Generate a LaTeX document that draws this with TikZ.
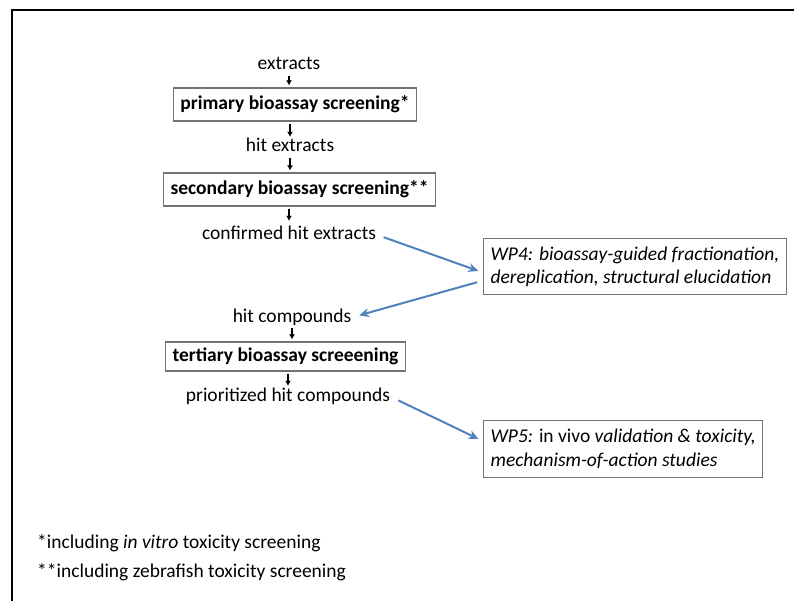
\documentclass[tikz,border=0pt]{standalone}
\usepackage{fontspec}
\setmainfont{Carlito}
\usetikzlibrary{arrows.meta}

\definecolor{wpblue}{RGB}{79,129,189}
\newcommand{\fsz}{\fontsize{19.5bp}{23.5bp}\selectfont}

\begin{document}
\begin{tikzpicture}[x=1bp,y=-1bp,every node/.style={font=\fsz},
    lbl/.style={inner sep=0pt,text height=13bp,text depth=4bp},
    stage/.style={draw=black!55,line width=1.2bp,font=\fsz\bfseries,minimum height=33bp,inner xsep=7bp,inner ysep=0pt},
    wp/.style={draw=black!55,line width=1.2bp,align=left,anchor=north west,inner xsep=7bp,font=\fsz\itshape},
    dn/.style={-{Latex[length=5bp,width=6bp]},line width=1.2bp,shorten <=2bp,shorten >=2bp},
    blu/.style={-{Stealth[length=10bp,width=9bp]},draw=wpblue,line width=2bp}]
    \useasboundingbox (0,0) rectangle (794,601);
    \draw[line width=2bp] (12,601) |- (794,10);
    \node[lbl,anchor=base] (ext) at (289,70) {extracts};
    \node[stage] (prim) at (295,104.5) {primary bioassay screening*};
    \node[lbl,anchor=base] (hitx) at (290,152) {hit extracts};
    \node[stage] (sec) at (299.5,189.5) {secondary bioassay screening**};
    \node[lbl,anchor=base] (conf) at (289,239) {confirmed hit extracts};
    \node[wp,minimum height=56bp] (wp4) at (483,238) {WP4: bioassay-guided fractionation,\\dereplication, structural elucidation};
    \node[lbl,anchor=base] (hitc) at (292,322) {hit compounds};
    \node[stage,minimum height=29bp] (ter) at (285.5,356.5) {tertiary bioassay screeening};
    \node[lbl,anchor=base] (prio) at (288,401) {prioritized hit compounds};
    \node[wp,minimum height=57bp] (wp5) at (483,420) {WP5: {\upshape in vivo} validation \& toxicity,\\mechanism-of-action studies};
    \node[lbl,anchor=base west] (fn1) at (37,548) {*including \textit{in vitro} toxicity screening};
    \node[lbl,anchor=base west] (fn2) at (37,577) {**including zebrafish toxicity screening};
    \draw (ext) edge[dn] (ext |- prim.north);
    \draw (prim.south -| hitx) edge[dn] (hitx);
    \draw (hitx) edge[dn] (hitx |- sec.north);
    \draw (sec.south -| conf) edge[dn,shorten >=5bp] (conf);
    \draw (hitc) edge[dn] (hitc |- ter.north);
    \draw (ter.south -| prio) edge[dn] (prio);
    \draw (conf.east) edge[blu,shorten <=8bp,shorten >=5bp] ([yshift=-6bp]wp4.west);
    \draw ([yshift=-14bp]wp4.west) edge[blu,shorten <=6bp,shorten >=8bp] (hitc.east);
    \draw (prio.east) edge[blu,shorten <=9bp,shorten >=5bp] ([yshift=8bp]wp5.west);
\end{tikzpicture}
\end{document}
